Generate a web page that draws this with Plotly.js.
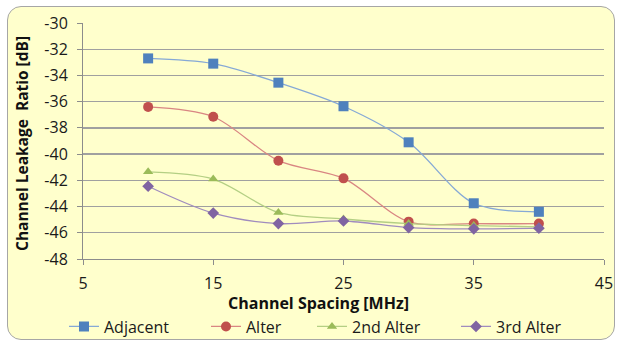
<!DOCTYPE html>
<html>
<head>
<meta charset="utf-8">
<script src="https://cdn.plot.ly/plotly-3.0.1.min.js"></script>
<style>
  html, body { margin: 0; padding: 0; background: #ffffff; }
  #frame { position: absolute; left: 7px; top: 6px; width: 606px; height: 332px;
           background: #FFFFCC; border: 1px solid #a6a6a6; border-radius: 14px; }
  #chart { position: absolute; left: 0; top: 0; width: 621px; height: 343px; }
</style>
</head>
<body>
<div id="frame"></div>
<div id="chart"></div>
<script>
const spacing = [10, 15, 20, 25, 30, 35, 40];
const adjacent = [-32.7, -33.1, -34.55, -36.35, -39.1, -43.75, -44.4];
const alter = [-36.4, -37.15, -40.5, -41.85, -45.15, -45.3, -45.3];
const alter2 = [-41.35, -41.9, -44.45, -44.95, -45.3, -45.45, -45.55];
const alter3 = [-42.45, -44.5, -45.3, -45.1, -45.6, -45.7, -45.65];
const seriesNames = ['Adjacent', 'Alter', '2nd Alter', '3rd Alter'];
const xTicks = [5, 15, 25, 35, 45];
const yTicks = [-48, -46, -44, -42, -40, -38, -36, -34, -32, -30];

const FONT = 'Open Sans, DejaVu Sans, sans-serif';
const PL = 83, PW = 521, PB = 259.3, PH = 236.6;
function tr(y, name, mcol, lcol, sym, size, leg) {
  return {
    x: spacing, y: y, name: name, type: 'scatter', mode: 'lines+markers',
    line: {color: lcol, width: 1.3, shape: 'spline', smoothing: 0.9},
    marker: {color: mcol, symbol: sym, size: size, line: {width: 0}},
    hoverinfo: 'skip', legend: leg
  };
}
const data = [
  tr(adjacent, seriesNames[0], '#4F81BD', '#86A9D6', 'square', 10, 'legend'),
  tr(alter, seriesNames[1], '#C0504D', '#D98683', 'circle', 10, 'legend2'),
  tr(alter2, seriesNames[2], '#9BBB59', '#B4CF84', 'triangle-up', 9, 'legend3'),
  tr(alter3, seriesNames[3], '#8064A2', '#A08CBE', 'diamond', 9, 'legend4')
];
function leg(px) {
  return {
    orientation: 'h', x: (px - PL) / PW, xanchor: 'left', y: (PB - 327) / PH, yanchor: 'middle',
    font: {family: FONT, size: 16, color: '#1a1a1a'}, bgcolor: 'rgba(0,0,0,0)',
    itemwidth: 30, borderwidth: 0
  };
}
const layout = {
  width: 621, height: 343,
  paper_bgcolor: 'rgba(0,0,0,0)', plot_bgcolor: 'rgba(0,0,0,0)',
  margin: {l: PL, r: 17, t: 23, b: 343 - PB, autoexpand: false},
  font: {family: FONT, size: 16, color: '#1a1a1a'},
  showlegend: true,
  xaxis: {
    range: [5, 45], tickvals: xTicks, ticktext: xTicks.map(String),
    showgrid: false, zeroline: false, showline: true, linecolor: '#8c8c8c', linewidth: 1,
    ticks: 'outside', ticklen: 5, tickcolor: '#8c8c8c', ticklabelstandoff: 5,
    tickfont: {family: FONT, size: 16, color: '#1a1a1a'}, fixedrange: true, automargin: false
  },
  yaxis: {
    range: [-48, -30], tickvals: yTicks, ticktext: yTicks.map(String),
    showgrid: true, gridcolor: '#a0a0a0', gridwidth: 1.3, zeroline: false,
    showline: true, linecolor: '#8c8c8c', linewidth: 1,
    ticks: 'outside', ticklen: 5, tickcolor: '#8c8c8c', ticklabelstandoff: 6,
    tickfont: {family: FONT, size: 16, color: '#1a1a1a'}, fixedrange: true, automargin: false
  },
  legend: leg(64),
  legend2: leg(206),
  legend3: leg(312),
  legend4: leg(456),
  annotations: [
    {text: '<b>Channel Spacing [MHz]</b>', xref: 'paper', yref: 'paper',
     x: (318 - PL) / PW, y: (PB - 303) / PH, xanchor: 'center', yanchor: 'middle',
     showarrow: false, font: {family: FONT, size: 16, color: '#111'}},
    {text: '<b>Channel Leakage  Ratio [dB]</b>', xref: 'paper', yref: 'paper',
     x: (22 - PL) / PW, y: (PB - 144) / PH, xanchor: 'center', yanchor: 'middle',
     textangle: -90, showarrow: false, font: {family: FONT, size: 15.5, color: '#111'}}
  ]
};
Plotly.newPlot('chart', data, layout, {staticPlot: true, displayModeBar: false});
</script>
</body>
</html>
